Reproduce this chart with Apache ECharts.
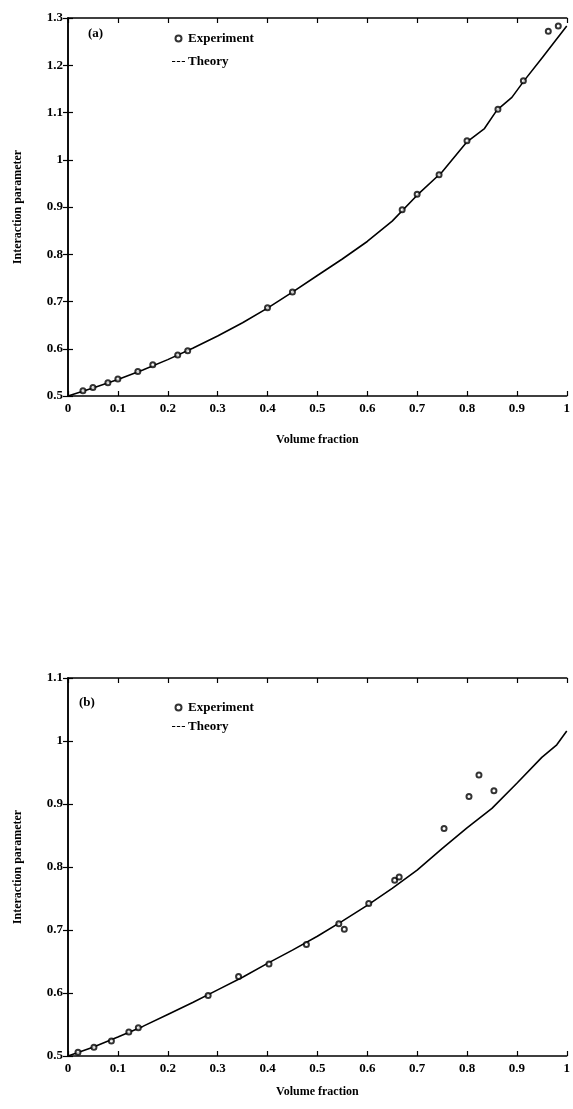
<!DOCTYPE html>
<html>
<head>
<meta charset="utf-8">
<script src="https://cdn.jsdelivr.net/npm/echarts@6/dist/echarts.min.js"></script>
<style>
html,body{margin:0;padding:0;background:#fff;}
#chart{width:573px;height:1109px;}
</style>
</head>
<body>
<div id="chart"></div>
<script>
// ---- Data: panel (a) ----
const expAx = [0.03, 0.05, 0.08, 0.10, 0.14, 0.17, 0.22, 0.24, 0.40, 0.45, 0.67, 0.70, 0.744, 0.80, 0.862, 0.913, 0.963, 0.983];
const expAy = [0.511, 0.518, 0.528, 0.536, 0.552, 0.566, 0.587, 0.596, 0.687, 0.720, 0.894, 0.927, 0.968, 1.040, 1.107, 1.167, 1.272, 1.283];
const thAx = [0, 0.05, 0.10, 0.15, 0.20, 0.25, 0.30, 0.35, 0.40, 0.45, 0.50, 0.55, 0.60, 0.65, 0.70, 0.75, 0.80, 0.835, 0.86, 0.89, 0.915, 0.95, 1.0];
const thAy = [0.500, 0.517, 0.535, 0.555, 0.577, 0.601, 0.627, 0.655, 0.686, 0.720, 0.755, 0.790, 0.827, 0.870, 0.925, 0.974, 1.038, 1.066, 1.105, 1.132, 1.168, 1.215, 1.283];

// ---- Data: panel (b) ----
const expBx = [0.02, 0.052, 0.087, 0.122, 0.141, 0.281, 0.342, 0.403, 0.478, 0.543, 0.554, 0.603, 0.655, 0.664, 0.754, 0.804, 0.824, 0.854];
const expBy = [0.506, 0.514, 0.524, 0.538, 0.545, 0.596, 0.626, 0.646, 0.677, 0.710, 0.701, 0.742, 0.779, 0.784, 0.861, 0.912, 0.946, 0.921];
const thBx = [0, 0.05, 0.10, 0.15, 0.20, 0.25, 0.30, 0.35, 0.40, 0.45, 0.50, 0.55, 0.60, 0.65, 0.70, 0.75, 0.80, 0.85, 0.90, 0.95, 0.98, 1.0];
const thBy = [0.500, 0.514, 0.530, 0.547, 0.566, 0.585, 0.605, 0.625, 0.647, 0.668, 0.690, 0.714, 0.739, 0.766, 0.795, 0.829, 0.862, 0.893, 0.933, 0.974, 0.994, 1.016];

const xTicks = ['0','0.1','0.2','0.3','0.4','0.5','0.6','0.7','0.8','0.9','1'];

const zip = (a, b) => a.map((v, i) => [v, b[i]]);
const FONT = "'Liberation Serif', 'Times New Roman', serif";
const txt = {color: '#000', fontFamily: FONT, fontWeight: 'bold', fontSize: 13};

function xAxisPair(gi, gap) {
  return [
    {type: 'value', gridIndex: gi, position: 'bottom', min: 0, max: 1, interval: 0.1,
     name: 'Volume fraction', nameLocation: 'middle', nameGap: gap,
     nameTextStyle: Object.assign({}, txt, {fontSize: 12}),
     axisLine: {lineStyle: {color: '#000', width: 1.5}},
     axisTick: {inside: true, length: 5, lineStyle: {color: '#000', width: 1.2}},
     axisLabel: Object.assign({margin: 6}, txt),
     splitLine: {show: false}},
    {type: 'value', gridIndex: gi, position: 'top', min: 0, max: 1, interval: 0.1,
     axisLine: {show: true, lineStyle: {color: '#000', width: 1.5}},
     axisTick: {show: true, inside: true, length: 5, lineStyle: {color: '#000', width: 1.2}},
     axisLabel: {show: false}, splitLine: {show: false}}
  ];
}
function yAxisPair(gi, max) {
  return [
    {type: 'value', gridIndex: gi, position: 'left', min: 0.5, max: max, interval: 0.1,
     name: 'Interaction parameter', nameLocation: 'middle', nameGap: 44, nameRotate: 90,
     nameTextStyle: Object.assign({}, txt, {fontSize: 12}),
     axisLine: {show: true, lineStyle: {color: '#000', width: 1.5}},
     axisTick: {show: true, inside: true, length: 5, lineStyle: {color: '#000', width: 1.2}},
     axisLabel: Object.assign({margin: 5}, txt),
     splitLine: {show: false}},
    {type: 'value', gridIndex: gi, position: 'right', min: 0.5, max: max, interval: 0.1,
     axisLine: {show: true, lineStyle: {color: '#000', width: 1.5}},
     axisTick: {show: true, inside: true, length: 5, lineStyle: {color: '#000', width: 1.2}},
     axisLabel: {show: false}, splitLine: {show: false}}
  ];
}

const expStyle = {symbol: 'emptyCircle', symbolSize: 5, itemStyle: {color: '#000', borderColor: '#000', borderWidth: 1.5}};
const lineStyle = {type: 'line', showSymbol: false, smooth: false, lineStyle: {color: '#000', width: 1.6}, itemStyle: {color: '#000'}};

function legendAt(top, gap) {
  return {
    orient: 'vertical', left: 167, top: top, itemGap: gap, itemWidth: 13, itemHeight: 6,
    textStyle: Object.assign({}, txt, {padding: [0, 0, 0, -2]}),
    data: [
      {name: 'Experiment', icon: 'emptyCircle', itemStyle: {color: '#000', borderColor: '#000', borderWidth: 1.5}},
      {name: 'Theory', icon: 'path://M0,0h3v1h-3z M4.5,0h3v1h-3z M9,0h3v1h-3z', itemStyle: {color: '#000'}}
    ],
    selectedMode: false
  };
}

const option = {
  animation: false,
  backgroundColor: '#fff',
  grid: [
    {left: 68, top: 18, width: 501, height: 378},
    {left: 68, top: 678, width: 501, height: 378}
  ],
  xAxis: [].concat(xAxisPair(0, 38), xAxisPair(1, 30)),
  yAxis: [].concat(yAxisPair(0, 1.3), yAxisPair(1, 1.1)),
  legend: [legendAt(27, 10), legendAt(696, 6)],
  graphic: [
    {type: 'text', left: 88, top: 27, style: {text: '(a)', fill: '#000', font: 'bold 13px ' + FONT}},
    {type: 'text', left: 79, top: 696, style: {text: '(b)', fill: '#000', font: 'bold 13px ' + FONT}}
  ],
  series: [
    Object.assign({name: 'Theory', xAxisIndex: 0, yAxisIndex: 0, data: zip(thAx, thAy), z: 2}, lineStyle),
    Object.assign({name: 'Experiment', type: 'scatter', xAxisIndex: 0, yAxisIndex: 0, data: zip(expAx, expAy), z: 3}, expStyle),
    Object.assign({name: 'Theory', xAxisIndex: 2, yAxisIndex: 2, data: zip(thBx, thBy), z: 2}, lineStyle),
    Object.assign({name: 'Experiment', type: 'scatter', xAxisIndex: 2, yAxisIndex: 2, data: zip(expBx, expBy), z: 3}, expStyle)
  ]
};

const chart = echarts.init(document.getElementById('chart'), null, {renderer: 'canvas'});
chart.setOption(option);
</script>
</body>
</html>
